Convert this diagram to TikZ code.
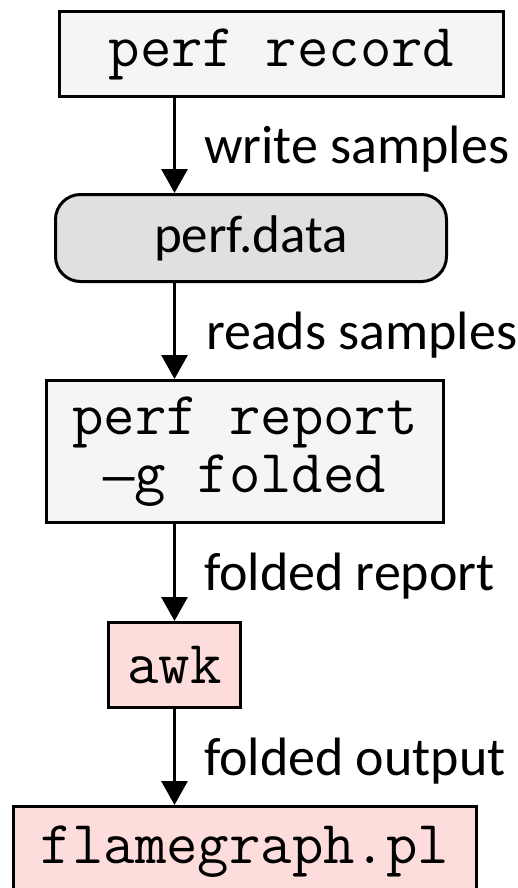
\documentclass[tikz,border=0pt]{standalone}
\usepackage{fontspec}
\setmainfont{Carlito}
\newfontfamily\dashfont{Liberation Mono}
\usetikzlibrary{arrows.meta, positioning}
\definecolor{toolgray}{HTML}{F5F5F5}
\definecolor{datagray}{HTML}{E0E0E0}
\definecolor{scriptpink}{HTML}{FDDCDC}

\begin{document}
\begin{tikzpicture}[x=1pt, y=1pt,
    tool/.style={draw, line width=3pt, fill=toolgray, inner sep=0pt, align=center,
      font=\ttfamily\fontsize{61}{58}\selectfont},
    datafile/.style={draw, line width=3pt, rounded corners=25pt, fill=datagray, inner sep=0pt,
      font=\fontsize{53}{60}\selectfont},
    script/.style={tool, fill=scriptpink},
    flow/.style={line width=3pt, -{Triangle[length=24pt, width=26pt]}},
    lbl/.style={right, xshift=28pt, yshift=-4pt, inner sep=0pt, font=\fontsize{54}{60}\selectfont}]
            \useasboundingbox (0,0) rectangle (518,-888);
            % \tikzstyle{every node}=[draw]
            \node[tool, minimum width=444pt, minimum height=85pt] (rec) at (281.5,-54) {perf record};
            \node[datafile, minimum width=391pt, minimum height=87pt] (data) at (251,-238) {perf.data};
            \node[tool, minimum width=397pt, minimum height=142pt] (rep) at (245,-451.5) {perf report\\{\dashfont\fontsize{52}{58}\selectfont —}g folded};
            \node[script, minimum width=132pt, minimum height=85pt] (awk) at (174.5,-665) {awk};
            \begin{scope}
              \clip (0,0) rectangle (518,-888);
              \node[script, minimum width=463pt, minimum height=90pt] (flame) at (245,-851.5) {flamegraph.pl};
            \end{scope}

            \draw[flow] (rec.south -| awk) -- node[lbl] {write samples} (data.north -| awk);
            \draw[flow] (data.south -| awk) -- node[lbl, xshift=2pt] {reads samples} (rep.north -| awk);
            \draw[flow] (rep.south -| awk) -- node[lbl] {folded report} (awk.north);
            \draw[flow] (awk.south) -- node[lbl] {folded output} (flame.north -| awk);
        \end{tikzpicture}
\end{document}
